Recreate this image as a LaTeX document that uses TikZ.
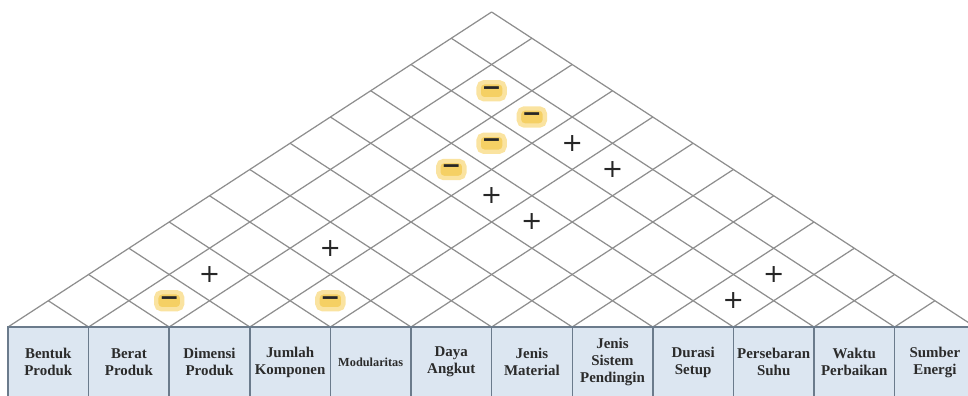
\documentclass[tikz,border=0pt]{standalone}
\usepackage{fontspec}
\setmainfont{Liberation Serif}
\newfontfamily\symfont{DejaVu Sans}
\usetikzlibrary{positioning}

\definecolor{gridgray}{HTML}{8E8E8E}
\definecolor{boxfill}{HTML}{DCE6F1}
\definecolor{boxline}{HTML}{6B7B8C}
\definecolor{hlgold}{HTML}{F5D064}
\definecolor{hlglow}{HTML}{FAE3A0}
\definecolor{labeltext}{HTML}{2B2B2B}

\begin{document}
\begin{tikzpicture}[
    node distance=0pt,
    colbox/.style={draw=boxline, fill=boxfill, line width=0.8pt, minimum width=1.612cm, minimum height=1.4cm, outer sep=0pt, inner sep=1pt, align=center, text=labeltext, font=\fontsize{8.5}{9.7}\selectfont\bfseries},
    negmark/.style={fill=hlgold, draw=hlglow, line width=2.5pt, rounded corners=3pt, minimum width=0.52cm, minimum height=0.34cm, inner sep=0pt, text=black!85, font=\symfont\bfseries\fontsize{13.5}{13.5}\selectfont},
    posmark/.style={inner sep=0pt, text=black!85, font=\symfont\fontsize{14.5}{14.5}\selectfont}
]

% column width and half row height
\def\cw{1.612}
\def\rh{0.525}

\clip (-0.16,-1.38) rectangle (19.2,6.54);

% Roof grid
\foreach \i in {0,...,12} {
    \draw[gridgray, line width=0.7pt] (\i*\cw,0) -- ({(\i+12)/2*\cw},{(12-\i)*\rh});
    \draw[gridgray, line width=0.7pt] (\i*\cw,0) -- ({\i/2*\cw},{\i*\rh});
}

% Column headers
\node[colbox] (c1) at (0.5*\cw,-0.7) {Bentuk\\Produk};
\node[colbox, right=of c1] (c2) {Berat\\Produk};
\node[colbox, right=of c2] (c3) {Dimensi\\Produk};
\node[colbox, right=of c3] (c4) {Jumlah\\Komponen};
\node[colbox, right=of c4, font=\fontsize{7}{8}\selectfont\bfseries] (c5) {Modularitas};
\node[colbox, right=of c5] (c6) {Daya\\Angkut};
\node[colbox, right=of c6] (c7) {Jenis\\Material};
\node[colbox, right=of c7] (c8) {Jenis\\Sistem\\Pendingin};
\node[colbox, right=of c8] (c9) {Durasi\\Setup};
\node[colbox, right=of c9] (c10) {Persebaran\\Suhu};
\node[colbox, right=of c10] (c11) {Waktu\\Perbaikan};
\node[colbox, right=of c11] (c12) {Sumber\\Energi};

% Negative relationships
\foreach \a/\b in {2/3, 4/5, 3/9, 3/10, 3/11, 2/11}
    \node[negmark] (n\a-\b) at ({(\a+\b-1)/2*\cw},{(\b-\a)*\rh}) {\raisebox{-1pt}{−}};

% Positive relationships
\foreach \a/\b in {2/4, 3/6, 4/9, 5/9, 4/11, 5/11, 9/10, 9/11}
    \node[posmark] (p\a-\b) at ({(\a+\b-1)/2*\cw},{(\b-\a)*\rh}) {+};

\end{tikzpicture}
\end{document}
